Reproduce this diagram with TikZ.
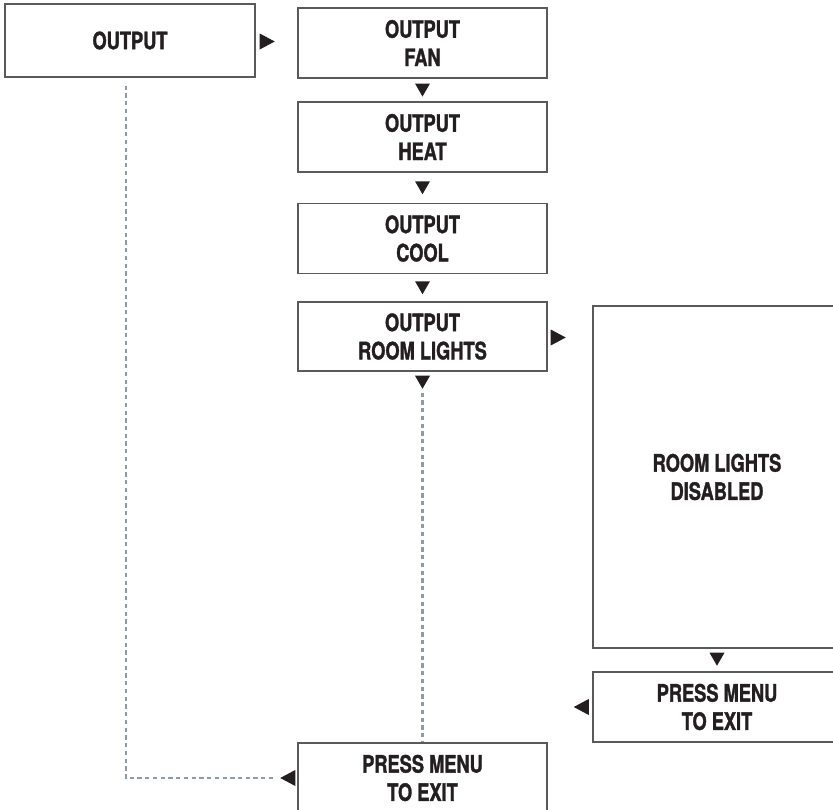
\documentclass[tikz,border=0pt]{standalone}
\usepackage{fontspec}
\setmainfont{TeX Gyre Heros}[FakeStretch=0.76,FakeBold=1.3]
\usetikzlibrary{calc}
\definecolor{txt}{HTML}{231F20}
\definecolor{boxline}{HTML}{5A5A5A}
\definecolor{dashc}{HTML}{8B9CA8}
\begin{document}
\begin{tikzpicture}[x=0.75pt,y=-0.75pt,
  box/.style={draw=boxline, line width=1.1pt, fill=white, inner sep=0pt,
    align=center, text=txt, font=\bfseries\fontsize{18}{21.2}\selectfont,
    minimum width=186.75pt, minimum height=52.5pt},
  dashline/.style={draw=dashc, line width=1.7pt, dash pattern=on 3.2pt off 2.6pt},
  tdown/.pic={\fill[txt] (-7.5,-6.5) -- (7.5,-6.5) -- (0,6.5) -- cycle;},
  tright/.pic={\fill[txt] (-7.5,-8) -- (-7.5,8) -- (7.5,0) -- cycle;},
  tleft/.pic={\fill[txt] (7.5,-8) -- (7.5,8) -- (-7.5,0) -- cycle;}]
\useasboundingbox (0,0) rectangle (833,810);
\clip (0,0) rectangle (833,810);
\fill[white] (0,0) rectangle (833,810);

\node[box, minimum width=187.5pt, minimum height=54.75pt] (out) at (130,40.5) {OUTPUT};
\node[box] (fan) at (422.5,43) {OUTPUT\\FAN};
\node[box] (heat) at (422.5,137) {OUTPUT\\HEAT};
\node[box] (cool) at (422.5,238.5) {OUTPUT\\COOL};
\node[box, minimum height=51.75pt] (rooml) at (422.5,336.5) {OUTPUT\\ROOM LIGHTS};
\node[box, minimum width=186pt, minimum height=256.5pt] (dis) at (717,477) {ROOM LIGHTS\\DISABLED};
\node[box, minimum width=186pt] (press1) at (717,707) {PRESS MENU\\TO EXIT};
\node[box] (press2) at (422.5,778) {PRESS MENU\\TO EXIT};

% arrowheads
\pic at ($(out.east)+(11.5,1)$) {tright};
\pic at ($(fan.south)!0.5!(heat.north)$) {tdown};
\pic at ($(heat.south)!0.5!(cool.north)$) {tdown};
\pic at ($(cool.south)!0.5!(rooml.north)$) {tdown};
\pic at ($(rooml.east)+(10.5,1)$) {tright};
\pic at ($(rooml.south)+(0,10.5)$) {tdown};
\pic at ($(dis.south)+(0,10.5)$) {tdown};
\pic at ($(press1.west)+(-11,0)$) {tleft};
\pic at ($(press2.west)+(-9.5,0)$) {tleft};

% dashed returns
\coordinate (d1) at ($(out.south)+(-4,8)$);
\coordinate (d2) at ($(press2.west)+(-21,0)$);
\draw[dashline] (d1) |- (d2);
\draw[dashline] ($(rooml.south)+(0,21)$) -- (press2.north);
\end{tikzpicture}
\end{document}
